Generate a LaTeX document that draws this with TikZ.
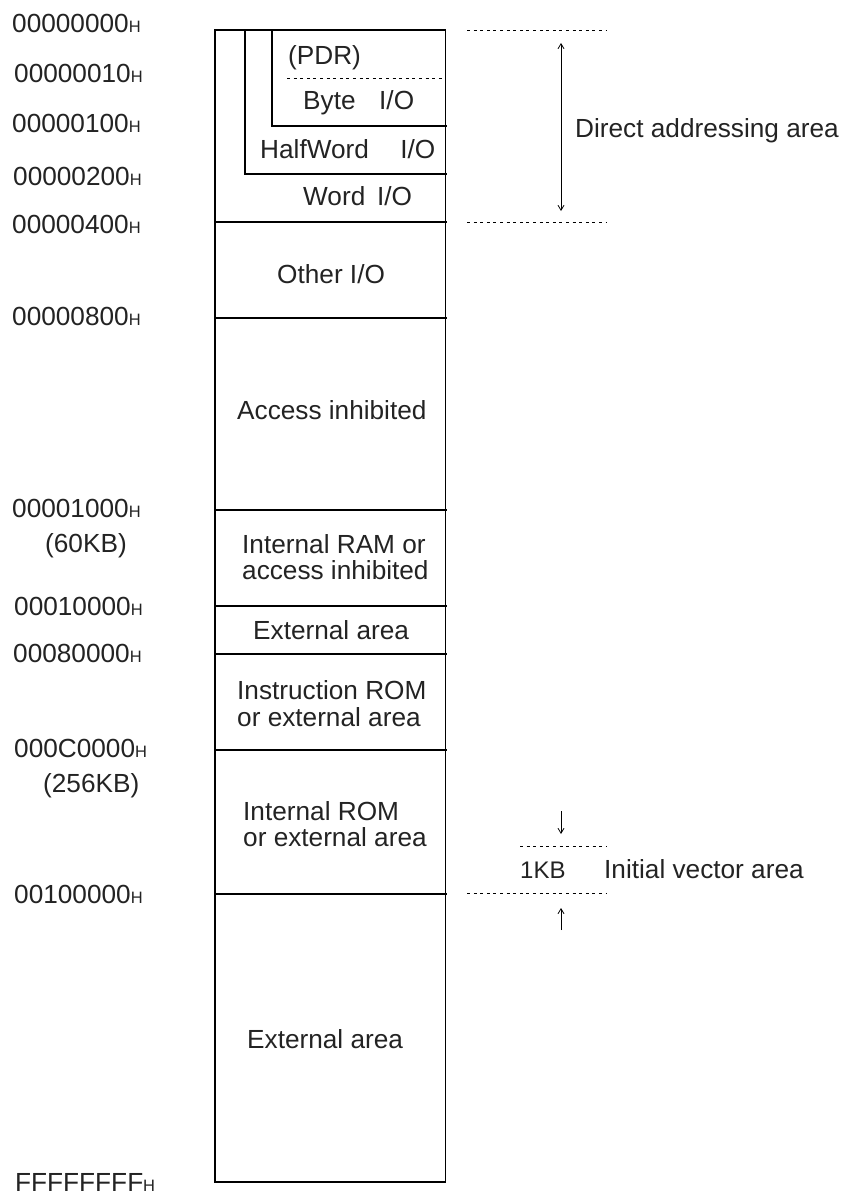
\documentclass[tikz,border=0pt]{standalone}
\usepackage{fontspec}
\setmainfont{Liberation Sans}
\usetikzlibrary{arrows.meta}
\definecolor{ink}{HTML}{232323}
% hexadecimal address with a small "H" suffix
\newcommand\hexaddr[1]{#1{\fontsize{16.5}{18}\selectfont H}}
\begin{document}
\begin{tikzpicture}[x=1pt,y=-1pt,
  txt/.style={inner sep=0pt, anchor=base west, text=ink,
              font=\fontsize{26.2}{30}\selectfont},
  small/.style={txt, font=\fontsize{24}{28}\selectfont},
  wall/.style={line width=1.3pt, black},
  dotline/.style={line width=0.9pt, black, dash pattern=on 3pt off 3.6pt},
  span/.style={line width=0.8pt, black, {Straight Barb[length=5pt,width=6pt]}-{Straight Barb[length=5pt,width=6pt]}},
  pointer/.style={line width=0.8pt, black, -{Straight Barb[length=5pt,width=6pt]}}
]
\useasboundingbox (0,0) rectangle (844,1196);

% ---- memory map outline ----
\coordinate (tl) at (215,30);
\coordinate (br) at (445.5,1182);
\draw[wall] (tl) rectangle (br);

% nested I/O regions at the top
\draw[wall] (245,30) -- (245,174) -- (447,174);
\draw[wall] (272,30) -- (272,126) -- (447,126);
\draw[dotline] (287,78) -- (445.5,78);

% region boundaries
\foreach \yy in {222,318,510,606,654,750,894}
  \draw[wall] (215,\yy) -- (447,\yy);

% ---- addresses on the left ----
\node[txt] (a0) at (12,33)   {\hexaddr{00000000}};
\node[txt] (a1) at (14,83)   {\hexaddr{00000010}};
\node[txt] (a2) at (12,132)  {\hexaddr{00000100}};
\node[txt] (a3) at (13,185)  {\hexaddr{00000200}};
\node[txt] (a4) at (12,233)  {\hexaddr{00000400}};
\node[txt] (a5) at (12,325)  {\hexaddr{00000800}};
\node[txt] (a6) at (12,517)  {\hexaddr{00001000}};
\node[txt] (s6) at (45,552)  {(60KB)};
\node[txt] (a7) at (14,615)  {\hexaddr{00010000}};
\node[txt] (a8) at (13,662)  {\hexaddr{00080000}};
\node[txt] (a9) at (14,757)  {\hexaddr{000C0000}};
\node[txt] (s9) at (43,792)  {(256KB)};
\node[txt] (a10) at (14,903) {\hexaddr{00100000}};
\node[txt] (a11) at (15,1191) {\hexaddr{FFFFFFFF}};

% ---- region labels ----
\node[txt] (pdr)  at (288,65)  {(PDR)};
\node[txt] (byte) at (303,110) {Byte\hspace{0.9em}I/O};
\node[txt] (half) at (260,158) {HalfWord\hspace{1.2em}I/O};
\node[txt] (word) at (303,205) {Word\hspace{0.45em}I/O};
\node[txt] (oio)  at (277,283) {Other I/O};
\node[txt] (acc)  at (237,419) {Access inhibited};
\node[txt] (ram1) at (242,553) {Internal RAM or};
\node[txt] (ram2) at (242,579) {access inhibited};
\node[txt] (ext1) at (253,639) {External area};
\node[txt] (ins1) at (237,699) {Instruction ROM};
\node[txt] (ins2) at (237,726) {or external area};
\node[txt] (rom1) at (243,820) {Internal ROM};
\node[txt] (rom2) at (243,846) {or external area};
\node[txt] (ext2) at (247,1048) {External area};

% ---- direct addressing area ----
\coordinate (d1) at (467,30);
\coordinate (d2) at (607,30);
\coordinate (d3) at (467,222);
\coordinate (d4) at (607,222);
\draw[dotline] (d1) -- (d2);
\draw[dotline] (d3) -- (d4);
\coordinate (up1) at (561,43);
\coordinate (dn1) at (561,211);
\draw[span] (up1) -- (dn1);
\node[txt] (dir) at (575,137) {Direct addressing area};

% ---- initial vector area ----
\coordinate (v1) at (520,846);
\coordinate (v2) at (607,846);
\coordinate (v3) at (467,893);
\coordinate (v4) at (607,893);
\draw[dotline] (v1) -- (v2);
\draw[dotline] (v3) -- (v4);
\coordinate (p1) at (561,811);
\coordinate (p2) at (561,834);
\coordinate (q1) at (561,930);
\coordinate (q2) at (561,908);
\draw[pointer] (p1) -- (p2);
\draw[pointer] (q1) -- (q2);
\node[small] (kb) at (520,878) {1KB};
\node[txt] (ivec) at (604,878) {Initial vector area};
\end{tikzpicture}
\end{document}
